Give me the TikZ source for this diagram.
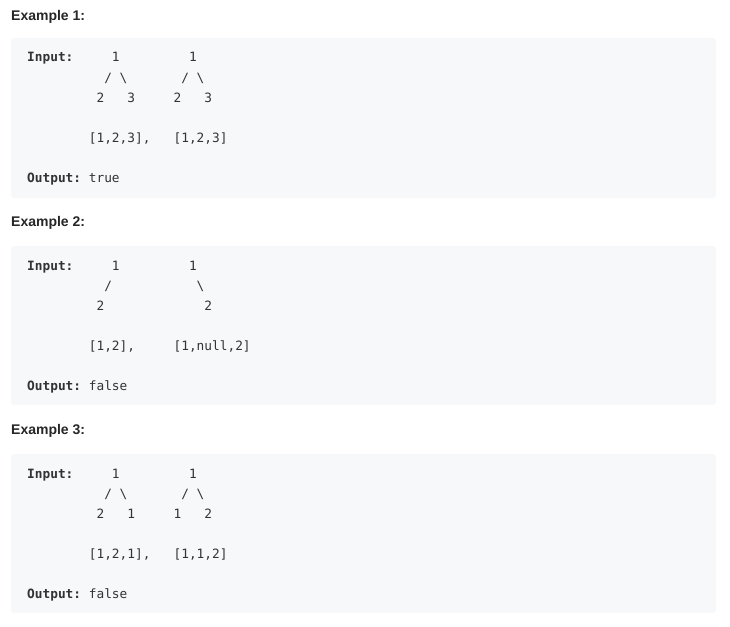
\documentclass[tikz,border=0pt]{standalone}
\usepackage{fontspec}
\setmainfont{Liberation Sans}
\newfontfamily\codefont{DejaVu Sans Mono}
\usetikzlibrary{positioning}

\definecolor{panelbg}{HTML}{F7F8FA}
\definecolor{inkgray}{HTML}{262626}
\definecolor{codegray}{HTML}{333333}

\tikzset{
  panel/.style={fill=panelbg, rounded corners=3pt},
  heading/.style={anchor=base west, inner sep=0pt, text=inkgray,
    font=\fontsize{14}{16}\selectfont\bfseries},
  codeline/.style={anchor=base west, inner sep=0pt, text=codegray,
    font=\fontsize{12.8}{20}\selectfont\codefont}
}

\begin{document}
\begin{tikzpicture}[x=1pt, y=-1pt]
\useasboundingbox (0,0) rectangle (730,626);

% Example 1
\node[heading] (h1) at (11,20.5) {Example 1:};
\fill[panel] (11,38) rectangle (716,198);
\node[codeline] (in1) at (27,62) {\textbf{Input:}~~~~~1~~~~~~~~~1};
\node[codeline] (ea1) at (27,82) {~~~~~~~~~~/~\textbackslash~~~~~~~/~\textbackslash};
\node[codeline] (lv1) at (27,102) {~~~~~~~~~2~~~3~~~~~2~~~3};
\node[codeline] (ar1) at (27,142) {~~~~~~~~[1,2,3],~~~[1,2,3]};
\node[codeline] (out1) at (27,182) {\textbf{Output:}~true};

% Example 2
\node[heading] (h2) at (11,226) {Example 2:};
\fill[panel] (11,246) rectangle (716,405);
\node[codeline] (in2) at (27,270) {\textbf{Input:}~~~~~1~~~~~~~~~1};
\node[codeline] (ea2) at (27,290) {~~~~~~~~~~/~~~~~~~~~~~\textbackslash};
\node[codeline] (lv2) at (27,310) {~~~~~~~~~2~~~~~~~~~~~~~2};
\node[codeline] (ar2) at (27,350) {~~~~~~~~[1,2],~~~~~[1,null,2]};
\node[codeline] (out2) at (27,390) {\textbf{Output:}~false};

% Example 3
\node[heading] (h3) at (11,434) {Example 3:};
\fill[panel] (11,454) rectangle (716,613);
\node[codeline] (in3) at (27,478) {\textbf{Input:}~~~~~1~~~~~~~~~1};
\node[codeline] (ea3) at (27,498) {~~~~~~~~~~/~\textbackslash~~~~~~~/~\textbackslash};
\node[codeline] (lv3) at (27,518) {~~~~~~~~~2~~~1~~~~~1~~~2};
\node[codeline] (ar3) at (27,558) {~~~~~~~~[1,2,1],~~~[1,1,2]};
\node[codeline] (out3) at (27,598) {\textbf{Output:}~false};
\end{tikzpicture}
\end{document}
